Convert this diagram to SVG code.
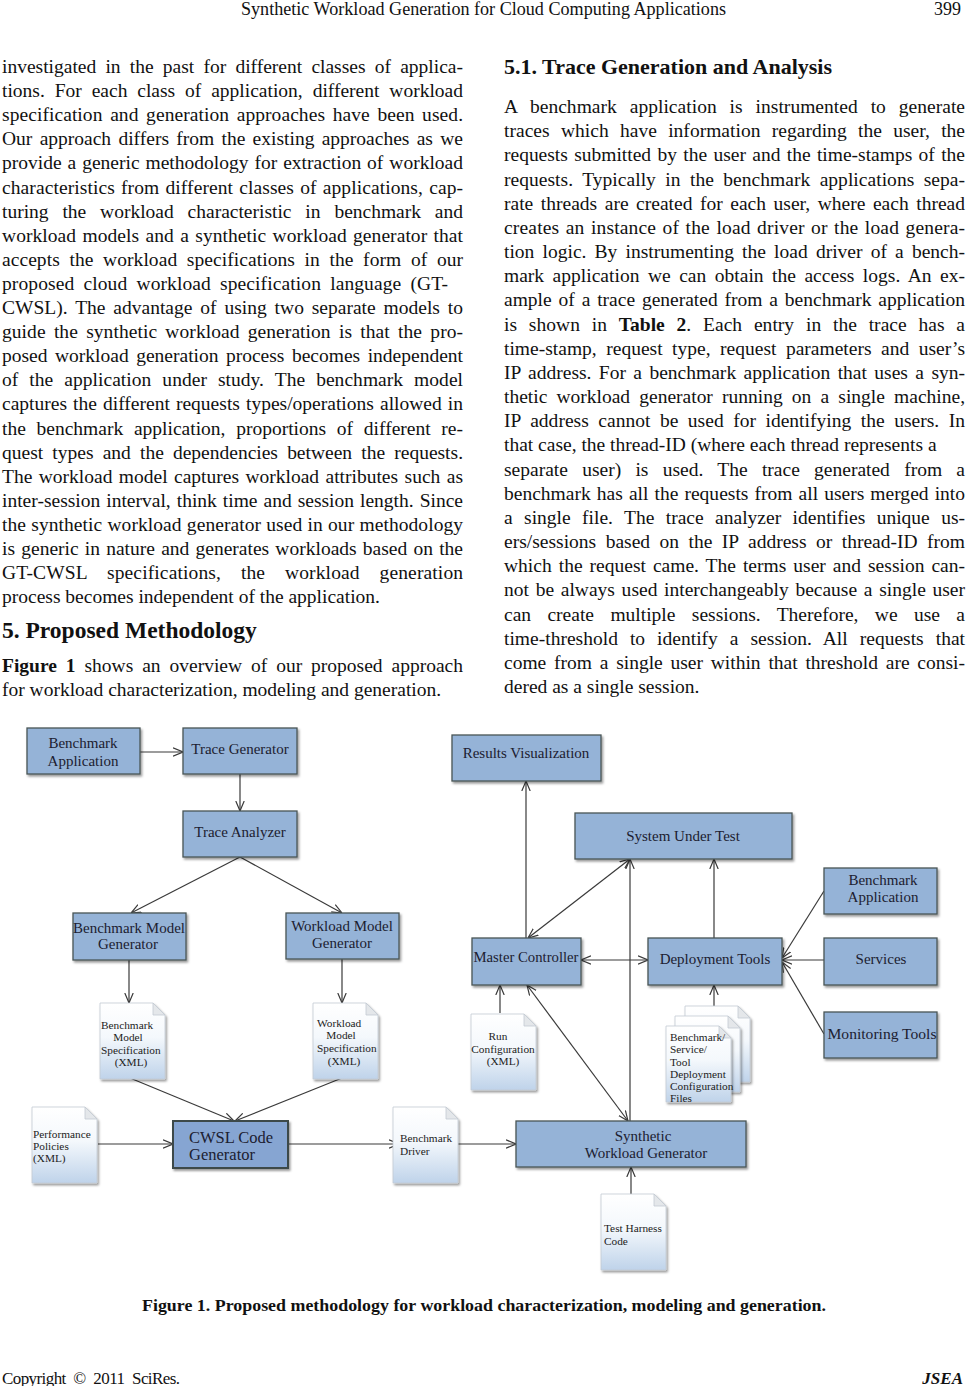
<svg xmlns="http://www.w3.org/2000/svg" xmlns:xlink="http://www.w3.org/1999/xlink" width="966" height="1386" viewBox="0 0 966 1386">
<style>
.t{font-family:"Liberation Serif","Times New Roman",serif;fill:#111}
.b{font-size:19.5px}
.hd{font-size:18px}
.h1{font-size:23.5px;font-weight:bold}
.h2{font-size:22px;font-weight:bold}
.bold{font-weight:bold}
.bx{fill:#95b3d7;stroke:#4a5656;stroke-width:1.3;filter:url(#sh)}
.bx2{fill:#86a5d2;stroke:#3c4848;stroke-width:2;filter:url(#sh)}
.lb{font-family:"Liberation Serif","Times New Roman",serif;font-size:15px;fill:#1c2030}
.lbc{text-anchor:middle}
.dl{font-family:"Liberation Serif","Times New Roman",serif;font-size:11.3px;fill:#222}
.cn line{stroke:#3a3a3a;stroke-width:1.2;fill:none}
</style>
<defs>
<filter id="sh" x="-10%" y="-10%" width="130%" height="140%">
<feDropShadow dx="1.5" dy="2" stdDeviation="1.3" flood-color="#000" flood-opacity="0.4"/>
</filter>
<linearGradient id="dg" x1="0" y1="0" x2="0" y2="1">
<stop offset="0" stop-color="#ffffff"/>
<stop offset="0.45" stop-color="#f4f8fc"/>
<stop offset="1" stop-color="#bfd3ea"/>
</linearGradient>
<g id="doc">
<path d="M0,0 H53 L65,12 V76 H0 Z" fill="url(#dg)" stroke="#c3cad3" stroke-width="0.8" filter="url(#sh)"/>
<path d="M53,0 V12 H65 Z" fill="#e4e7ea" stroke="#c3cad3" stroke-width="0.8"/>
</g>
<marker id="ah" viewBox="0 0 10 10" refX="10" refY="5" markerWidth="10" markerHeight="10" markerUnits="userSpaceOnUse" orient="auto-start-reverse">
<path d="M0,0.8 L10,5 L0,9.2" fill="none" stroke="#3a3a3a" stroke-width="1.2"/>
</marker>
</defs>
<rect width="966" height="1386" fill="#fff"/>

<g id="page-header" class="t">
<text class="hd" x="241" y="15" textLength="485" lengthAdjust="spacingAndGlyphs">Synthetic Workload Generation for Cloud Computing Applications</text>
<text class="hd" x="961" y="15" text-anchor="end">399</text>
</g>

<g id="left-column" class="t b">
<text x="2" y="73" textLength="461" lengthAdjust="spacing" style="word-spacing:4.3px">investigated in the past for different classes of applica-</text>
<text x="2" y="97.1" textLength="461" lengthAdjust="spacing" style="word-spacing:5px">tions. For each class of application, different workload</text>
<text x="2" y="121.2" textLength="461" lengthAdjust="spacing" style="word-spacing:2.7px">specification and generation approaches have been used.</text>
<text x="2" y="145.3" textLength="461" lengthAdjust="spacing" style="word-spacing:2.4px">Our approach differs from the existing approaches as we</text>
<text x="2" y="169.4" textLength="461" lengthAdjust="spacing" style="word-spacing:1.1px">provide a generic methodology for extraction of workload</text>
<text x="2" y="193.5" textLength="461" lengthAdjust="spacing" style="word-spacing:1.2px">characteristics from different classes of applications, cap-</text>
<text x="2" y="217.6" textLength="461" lengthAdjust="spacing" style="word-spacing:9px">turing the workload characteristic in benchmark and</text>
<text x="2" y="241.7" textLength="461" lengthAdjust="spacing" style="word-spacing:1.4px">workload models and a synthetic workload generator that</text>
<text x="2" y="265.8" textLength="461" lengthAdjust="spacing" style="word-spacing:4.7px">accepts the workload specifications in the form of our</text>
<text x="2" y="289.9" textLength="446" lengthAdjust="spacing" style="word-spacing:4.2px">proposed cloud workload specification language (GT-</text>
<text x="2" y="314" textLength="461" lengthAdjust="spacing" style="word-spacing:3px">CWSL). The advantage of using two separate models to</text>
<text x="2" y="338.1" textLength="461" lengthAdjust="spacing" style="word-spacing:3.3px">guide the synthetic workload generation is that the pro-</text>
<text x="2" y="362.2" textLength="461" lengthAdjust="spacing" style="word-spacing:2.6px">posed workload generation process becomes independent</text>
<text x="2" y="386.3" textLength="461" lengthAdjust="spacing" style="word-spacing:6.1px">of the application under study. The benchmark model</text>
<text x="2" y="410.4" textLength="461" lengthAdjust="spacing" style="word-spacing:1.2px">captures the different requests types/operations allowed in</text>
<text x="2" y="434.5" textLength="461" lengthAdjust="spacing" style="word-spacing:5.8px">the benchmark application, proportions of different re-</text>
<text x="2" y="458.6" textLength="461" lengthAdjust="spacing" style="word-spacing:4.3px">quest types and the dependencies between the requests.</text>
<text x="2" y="482.7" textLength="461" lengthAdjust="spacing" style="word-spacing:1.6px">The workload model captures workload attributes such as</text>
<text x="2" y="506.8" textLength="461" lengthAdjust="spacing" style="word-spacing:1.1px">inter-session interval, think time and session length. Since</text>
<text x="2" y="530.9" textLength="461" lengthAdjust="spacing" style="word-spacing:0.3px">the synthetic workload generator used in our methodology</text>
<text x="2" y="555" textLength="461" lengthAdjust="spacing" style="word-spacing:1.3px">is generic in nature and generates workloads based on the</text>
<text x="2" y="579.1" textLength="461" lengthAdjust="spacing" style="word-spacing:14.9px">GT-CWSL specifications, the workload generation</text>
<text x="2" y="603.2">process becomes independent of the application.</text>
<text class="h1" x="2" y="638">5. Proposed Methodology</text>
<text x="2" y="672" textLength="461" lengthAdjust="spacing" style="word-spacing:4px"><tspan class="bold">Figure 1</tspan> shows an overview of our proposed approach</text>
<text x="2" y="696">for workload characterization, modeling and generation.</text>
</g>

<g id="right-column" class="t b">
<text class="h2" x="504" y="74">5.1. Trace Generation and Analysis</text>
<text x="504" y="113" textLength="461" lengthAdjust="spacing" style="word-spacing:8px">A benchmark application is instrumented to generate</text>
<text x="504" y="137.2" textLength="461" lengthAdjust="spacing" style="word-spacing:6.4px">traces which have information regarding the user, the</text>
<text x="504" y="161.3" textLength="461" lengthAdjust="spacing" style="word-spacing:1.5px">requests submitted by the user and the time-stamps of the</text>
<text x="504" y="185.5" textLength="461" lengthAdjust="spacing" style="word-spacing:4.5px">requests. Typically in the benchmark applications sepa-</text>
<text x="504" y="209.7" textLength="461" lengthAdjust="spacing" style="word-spacing:2.6px">rate threads are created for each user, where each thread</text>
<text x="504" y="233.9" textLength="461" lengthAdjust="spacing" style="word-spacing:1.4px">creates an instance of the load driver or the load genera-</text>
<text x="504" y="258" textLength="461" lengthAdjust="spacing" style="word-spacing:3.3px">tion logic. By instrumenting the load driver of a bench-</text>
<text x="504" y="282.2" textLength="461" lengthAdjust="spacing" style="word-spacing:3.6px">mark application we can obtain the access logs. An ex-</text>
<text x="504" y="306.4" textLength="461" lengthAdjust="spacing" style="word-spacing:2px">ample of a trace generated from a benchmark application</text>
<text x="504" y="330.5" textLength="461" lengthAdjust="spacing" style="word-spacing:6.9px">is shown in <tspan class="bold">Table 2</tspan>. Each entry in the trace has a</text>
<text x="504" y="354.7" textLength="461" lengthAdjust="spacing" style="word-spacing:4.6px">time-stamp, request type, request parameters and user’s</text>
<text x="504" y="378.9" textLength="461" lengthAdjust="spacing" style="word-spacing:2.5px">IP address. For a benchmark application that uses a syn-</text>
<text x="504" y="403" textLength="461" lengthAdjust="spacing" style="word-spacing:4.3px">thetic workload generator running on a single machine,</text>
<text x="504" y="427.2" textLength="461" lengthAdjust="spacing" style="word-spacing:4.6px">IP address cannot be used for identifying the users. In</text>
<text x="504" y="451.4">that case, the thread-ID (where each thread represents a</text>
<text x="504" y="475.6" textLength="461" lengthAdjust="spacing" style="word-spacing:9.4px">separate user) is used. The trace generated from a</text>
<text x="504" y="499.7" textLength="461" lengthAdjust="spacing" style="word-spacing:1.2px">benchmark has all the requests from all users merged into</text>
<text x="504" y="523.9" textLength="461" lengthAdjust="spacing" style="word-spacing:6.5px">a single file. The trace analyzer identifies unique us-</text>
<text x="504" y="548.1" textLength="461" lengthAdjust="spacing" style="word-spacing:4.6px">ers/sessions based on the IP address or thread-ID from</text>
<text x="504" y="572.2" textLength="461" lengthAdjust="spacing" style="word-spacing:2.1px">which the request came. The terms user and session can-</text>
<text x="504" y="596.4" textLength="461" lengthAdjust="spacing" style="word-spacing:1.8px">not be always used interchangeably because a single user</text>
<text x="504" y="620.6" textLength="461" lengthAdjust="spacing" style="word-spacing:11.5px">can create multiple sessions. Therefore, we use a</text>
<text x="504" y="644.7" textLength="461" lengthAdjust="spacing" style="word-spacing:7.1px">time-threshold to identify a session. All requests that</text>
<text x="504" y="668.9" textLength="461" lengthAdjust="spacing" style="word-spacing:2.9px">come from a single user within that threshold are consi-</text>
<text x="504" y="693.1">dered as a single session.</text>
</g>

<g id="connectors" class="cn">
<line x1="140" y1="752" x2="183" y2="752" marker-end="url(#ah)"/>
<line x1="240" y1="774" x2="240" y2="811" marker-end="url(#ah)"/>
<line x1="240" y1="857" x2="131" y2="913" marker-end="url(#ah)"/>
<line x1="240" y1="857" x2="342" y2="913" marker-end="url(#ah)"/>
<line x1="129" y1="960" x2="129" y2="1003" marker-end="url(#ah)"/>
<line x1="342" y1="959" x2="342" y2="1003" marker-end="url(#ah)"/>
<line x1="130" y1="1078" x2="234" y2="1121" marker-end="url(#ah)"/>
<line x1="342" y1="1078" x2="235" y2="1121" marker-end="url(#ah)"/>
<line x1="98" y1="1144" x2="173" y2="1144" marker-end="url(#ah)"/>
<line x1="288" y1="1144" x2="399" y2="1144" marker-end="url(#ah)"/>
<line x1="458" y1="1144" x2="516" y2="1144" marker-end="url(#ah)"/>
<line x1="631" y1="1194" x2="631" y2="1167" marker-end="url(#ah)"/>
<line x1="630" y1="1121" x2="630" y2="859" marker-end="url(#ah)"/>
<line x1="527" y1="985" x2="628" y2="1121" marker-start="url(#ah)" marker-end="url(#ah)"/>
<line x1="500" y1="1013" x2="500" y2="985" marker-end="url(#ah)"/>
<line x1="526" y1="938" x2="526" y2="781" marker-end="url(#ah)"/>
<line x1="528" y1="938" x2="630" y2="859" marker-start="url(#ah)" marker-end="url(#ah)"/>
<line x1="581" y1="960" x2="648" y2="960" marker-start="url(#ah)" marker-end="url(#ah)"/>
<line x1="714" y1="938" x2="714" y2="859" marker-end="url(#ah)"/>
<line x1="714" y1="1007" x2="714" y2="985" marker-end="url(#ah)"/>
<line x1="824" y1="891" x2="782" y2="958" marker-end="url(#ah)"/>
<line x1="824" y1="960" x2="782" y2="960" marker-end="url(#ah)"/>
<line x1="824" y1="1034" x2="782" y2="962" marker-end="url(#ah)"/>
</g>

<g id="benchmark-application">
<rect class="bx" x="27" y="728" width="113" height="46"/>
<text class="lb lbc" x="83" y="748">Benchmark</text>
<text class="lb lbc" x="83" y="766">Application</text>
</g>
<g id="trace-generator">
<rect class="bx" x="183" y="728" width="114" height="46"/>
<text class="lb lbc" x="240" y="754">Trace Generator</text>
</g>
<g id="trace-analyzer">
<rect class="bx" x="183" y="811" width="114" height="46"/>
<text class="lb lbc" x="240" y="837">Trace Analyzer</text>
</g>
<g id="benchmark-model-generator">
<rect class="bx" x="73" y="913" width="113" height="47"/>
<text class="lb lbc" x="129" y="933" textLength="112" lengthAdjust="spacingAndGlyphs">Benchmark Model</text>
<text class="lb lbc" x="128" y="949">Generator</text>
</g>
<g id="workload-model-generator">
<rect class="bx" x="286" y="913" width="113" height="46"/>
<text class="lb lbc" x="342" y="931">Workload Model</text>
<text class="lb lbc" x="342" y="948">Generator</text>
</g>
<g id="benchmark-model-specification">
<use href="#doc" x="100" y="1003"/>
<text class="dl" x="101" y="1029">Benchmark</text>
<text class="dl" x="128" y="1041" text-anchor="middle">Model</text>
<text class="dl" x="101" y="1054">Specification</text>
<text class="dl" x="131" y="1066" text-anchor="middle">(XML)</text>
</g>
<g id="workload-model-specification">
<use href="#doc" x="313" y="1003"/>
<text class="dl" x="317" y="1027">Workload</text>
<text class="dl" x="341" y="1039" text-anchor="middle">Model</text>
<text class="dl" x="317" y="1052">Specification</text>
<text class="dl" x="344" y="1065" text-anchor="middle">(XML)</text>
</g>
<g id="performance-policies">
<use href="#doc" x="32" y="1107"/>
<text class="dl" x="33" y="1138">Performance</text>
<text class="dl" x="33" y="1150">Policies</text>
<text class="dl" x="33" y="1162">(XML)</text>
</g>
<g id="cwsl-code-generator">
<rect class="bx2" x="173" y="1121" width="115" height="47"/>
<text class="lb" x="189" y="1143" style="font-size:16.5px">CWSL Code</text>
<text class="lb" x="189" y="1160" style="font-size:16.5px">Generator</text>
</g>
<g id="benchmark-driver">
<use href="#doc" x="393" y="1107"/>
<text class="dl" x="400" y="1142">Benchmark</text>
<text class="dl" x="400" y="1155">Driver</text>
</g>
<g id="synthetic-workload-generator">
<rect class="bx" x="516" y="1121" width="230" height="46"/>
<text class="lb lbc" x="643" y="1141">Synthetic</text>
<text class="lb lbc" x="646" y="1158">Workload Generator</text>
</g>
<g id="test-harness-code">
<use href="#doc" x="601" y="1194"/>
<text class="dl" x="604" y="1232">Test Harness</text>
<text class="dl" x="604" y="1245">Code</text>
</g>
<g id="run-configuration">
<use href="#doc" x="471" y="1014"/>
<text class="dl" x="498" y="1040" text-anchor="middle">Run</text>
<text class="dl" x="503" y="1053" text-anchor="middle">Configuration</text>
<text class="dl" x="503" y="1065" text-anchor="middle">(XML)</text>
</g>
<g id="results-visualization">
<rect class="bx" x="452" y="735" width="149" height="46"/>
<text class="lb lbc" x="526" y="758">Results Visualization</text>
</g>
<g id="system-under-test">
<rect class="bx" x="575" y="813" width="217" height="46"/>
<text class="lb lbc" x="683" y="841">System Under Test</text>
</g>
<g id="master-controller">
<rect class="bx" x="472" y="938" width="109" height="47"/>
<text class="lb lbc" x="526" y="962" textLength="105" lengthAdjust="spacingAndGlyphs">Master Controller</text>
</g>
<g id="deployment-tools">
<rect class="bx" x="648" y="938" width="134" height="47"/>
<text class="lb lbc" x="715" y="964">Deployment Tools</text>
</g>
<g id="deployment-configuration-files">
<use href="#doc" x="685" y="1006"/>
<use href="#doc" x="675" y="1016"/>
<use href="#doc" x="666" y="1026"/>
<text class="dl" x="670" y="1041">Benchmark/</text>
<text class="dl" x="670" y="1053">Service/</text>
<text class="dl" x="670" y="1066">Tool</text>
<text class="dl" x="670" y="1078">Deployment</text>
<text class="dl" x="670" y="1090">Configuration</text>
<text class="dl" x="670" y="1102">Files</text>
</g>
<g id="benchmark-application-2">
<rect class="bx" x="824" y="868" width="113" height="46"/>
<text class="lb lbc" x="883" y="885">Benchmark</text>
<text class="lb lbc" x="883" y="902">Application</text>
</g>
<g id="services">
<rect class="bx" x="824" y="938" width="113" height="47"/>
<text class="lb lbc" x="881" y="964">Services</text>
</g>
<g id="monitoring-tools">
<rect class="bx" x="824" y="1012" width="113" height="46"/>
<text class="lb lbc" x="882" y="1039" textLength="109" lengthAdjust="spacingAndGlyphs">Monitoring Tools</text>
</g>

<g id="caption" class="t">
<text x="484" y="1311" text-anchor="middle" class="bold" style="font-size:17.5px" textLength="684" lengthAdjust="spacingAndGlyphs">Figure 1. Proposed methodology for workload characterization, modeling and generation.</text>
<text x="2" y="1384" style="font-size:17px;word-spacing:4px" textLength="178" lengthAdjust="spacing">Copyright © 2011 SciRes.</text>
<text x="963" y="1384" text-anchor="end" style="font-size:17px;font-weight:bold;font-style:italic">JSEA</text>
</g>
</svg>
